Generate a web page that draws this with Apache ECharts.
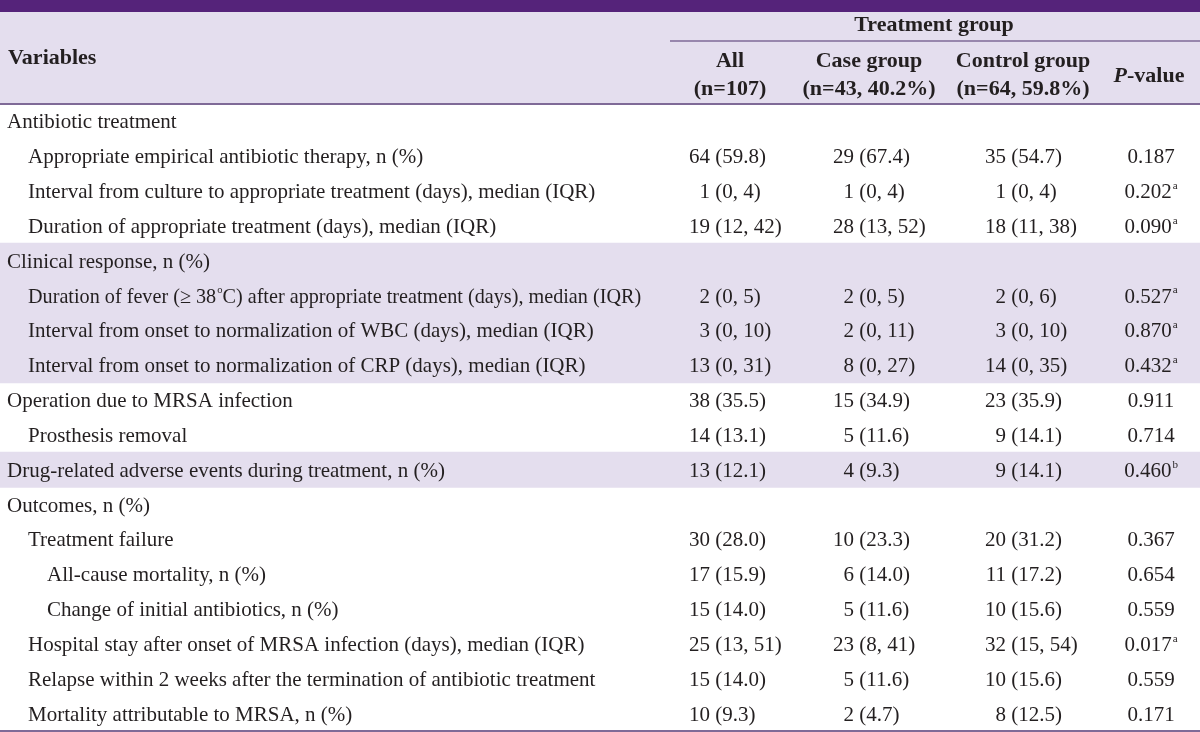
<!DOCTYPE html>
<html>
<head>
<meta charset="utf-8">
<script src="https://cdn.jsdelivr.net/npm/echarts@6/dist/echarts.min.js"></script>
<style>html,body{margin:0;padding:0;background:#fff;}#chart{width:1200px;height:732px;}</style>
</head>
<body>
<div id="chart"></div>
<script>
// ---------------- data ----------------
const rowLabels = [
  'Antibiotic treatment',
  'Appropriate empirical antibiotic therapy, n (%)',
  'Interval from culture to appropriate treatment (days), median (IQR)',
  'Duration of appropriate treatment (days), median (IQR)',
  'Clinical response, n (%)',
  'Duration of fever (\u2265 38{sup|o}C) after appropriate treatment (days), median (IQR)',
  'Interval from onset to normalization of WBC (days), median (IQR)',
  'Interval from onset to normalization of CRP (days), median (IQR)',
  'Operation due to MRSA infection',
  'Prosthesis removal',
  'Drug-related adverse events during treatment, n (%)',
  'Outcomes, n (%)',
  'Treatment failure',
  'All-cause mortality, n (%)',
  'Change of initial antibiotics, n (%)',
  'Hospital stay after onset of MRSA infection (days), median (IQR)',
  'Relapse within 2 weeks after the termination of antibiotic treatment',
  'Mortality attributable to MRSA, n (%)'
];
const rowLevels = [0, 1, 1, 1, 0, 1, 1, 1, 0, 1, 0, 0, 1, 2, 2, 1, 1, 1];
const shadedRows = [4, 5, 6, 7, 10];
const allValues = ['', '64 (59.8)', '1 (0, 4)', '19 (12, 42)', '', '2 (0, 5)', '3 (0, 10)', '13 (0, 31)', '38 (35.5)', '14 (13.1)', '13 (12.1)', '', '30 (28.0)', '17 (15.9)', '15 (14.0)', '25 (13, 51)', '15 (14.0)', '10 (9.3)'];
const caseValues = ['', '29 (67.4)', '1 (0, 4)', '28 (13, 52)', '', '2 (0, 5)', '2 (0, 11)', '8 (0, 27)', '15 (34.9)', '5 (11.6)', '4 (9.3)', '', '10 (23.3)', '6 (14.0)', '5 (11.6)', '23 (8, 41)', '5 (11.6)', '2 (4.7)'];
const controlValues = ['', '35 (54.7)', '1 (0, 4)', '18 (11, 38)', '', '2 (0, 6)', '3 (0, 10)', '14 (0, 35)', '23 (35.9)', '9 (14.1)', '9 (14.1)', '', '20 (31.2)', '11 (17.2)', '10 (15.6)', '32 (15, 54)', '10 (15.6)', '8 (12.5)'];
const pValues = ['', '0.187', '0.202', '0.090', '', '0.527', '0.870', '0.432', '0.911', '0.714', '0.460', '', '0.367', '0.654', '0.559', '0.017', '0.559', '0.171'];
const pNotes = ['', '', 'a', 'a', '', 'a', 'a', 'a', '', '', 'b', '', '', '', '', 'a', '', ''];
const headerGroup = 'Treatment group';
const headerVariables = 'Variables';
const headerColumns = [['All', '(n=107)'], ['Case group', '(n=43, 40.2%)'], ['Control group', '(n=64, 59.8%)']];
const headerP = '{pi|P}-value';

// ---------------- layout / style ----------------
const FONT = '"Liberation Serif", "Times New Roman", serif';
const FS = 21;
const HFS = 22;
const TXT = '#231f20';
const LAV = '#e4deee';
const PURPLE = '#55237a';
const LINE = '#7f6a97';
const indentX = [7, 28, 47];
const labelRight = 645;
const numAnchors = [710, 854, 1006];
const pCenter = 1151;
const headCenters = [730, 869, 1023];
const TEXT_DY = 1.5;
const supRich = { sup: { fontSize: 11, lineHeight: 12, fontFamily: FONT, fill: TXT, verticalAlign: 'top', padding: [0, 0, 0, 1] } };

const rowData = rowLabels.map((_, i) => [0, i]);
const columnSets = [allValues, caseValues, controlValues];

const measureCtx = document.createElement('canvas').getContext('2d');
function labelWidth(s) {
  measureCtx.font = FS + 'px ' + FONT;
  return measureCtx.measureText(s.replace(/\{sup\|([^}]*)\}/g, '$1')).width;
}

const chart = echarts.init(document.getElementById('chart'), null, { renderer: 'canvas' });

function splitCell(s) {
  const k = s.indexOf(' ');
  return [s.slice(0, k), s.slice(k)];
}
function headText(x, y, text, align) {
  return { type: 'text', x: x, y: y + TEXT_DY, z: 5,
    style: { text: text, font: 'bold ' + HFS + 'px ' + FONT, fill: TXT, align: align || 'center', verticalAlign: 'middle' } };
}

const option = {
  animation: false,
  backgroundColor: '#fff',
  grid: { left: 0, right: 0, top: 104, bottom: 1, containLabel: false },
  xAxis: { type: 'value', min: 0, max: 1200, show: false },
  yAxis: { type: 'category', data: rowLabels.map((_, i) => i), inverse: true, show: false },
  graphic: [
    { type: 'rect', shape: { x: 0, y: 0, width: 1200, height: 12 }, style: { fill: PURPLE }, z: 0 },
    { type: 'rect', shape: { x: 0, y: 12, width: 1200, height: 92 }, style: { fill: LAV }, z: 0 },
    { type: 'line', shape: { x1: 670, y1: 41, x2: 1200, y2: 41 }, style: { stroke: LINE, lineWidth: 1.5 }, z: 1 },
    { type: 'line', shape: { x1: 0, y1: 104, x2: 1200, y2: 104 }, style: { stroke: LINE, lineWidth: 2 }, z: 10 },
    { type: 'line', shape: { x1: 0, y1: 731, x2: 1200, y2: 731 }, style: { stroke: LINE, lineWidth: 2 }, z: 10 },
    headText(8, 57, headerVariables, 'left'),
    headText(934, 24, headerGroup)
  ].concat(headerColumns.flatMap((c, j) => [
    headText(headCenters[j], 60, c[0]),
    headText(headCenters[j], 88, c[1])
  ])).concat([
    { type: 'text', x: 1149, y: 75 + TEXT_DY, z: 5,
      style: { text: headerP, font: 'bold ' + HFS + 'px ' + FONT, fill: TXT, align: 'center', verticalAlign: 'middle',
        rich: { pi: { fontStyle: 'italic', fontWeight: 'bold', fontSize: HFS, fontFamily: FONT, fill: TXT } } } }
  ]),
  series: [
    {
      type: 'custom',
      name: 'bands',
      data: shadedRows.map(r => [0, r]),
      encode: { x: 0, y: 1 },
      z: 1,
      renderItem: function (params, api) {
        const c = api.coord([0, api.value(1)]);
        const h = api.size([0, 1])[1];
        const cs = params.coordSys;
        return { type: 'rect', shape: { x: cs.x, y: c[1] - h / 2 - 0.5, width: cs.width, height: h + 1 }, style: { fill: LAV, stroke: null } };
      }
    },
    {
      type: 'custom',
      name: 'labels',
      data: rowData,
      encode: { x: 0, y: 1 },
      z: 3,
      renderItem: function (params, api) {
        const i = api.value(1);
        const x0 = indentX[rowLevels[i]];
        const c = api.coord([x0, i]);
        const w = labelWidth(rowLabels[i]);
        const sx = Math.min(1, (labelRight - x0) / w);
        return {
          type: 'text', x: c[0], y: c[1] + TEXT_DY, scaleX: sx,
          style: { text: rowLabels[i], font: FS + 'px ' + FONT, lineHeight: 24, fill: TXT, align: 'left', verticalAlign: 'middle', rich: supRich }
        };
      }
    },
    {
      type: 'custom',
      name: 'values',
      data: rowData,
      encode: { x: 0, y: 1 },
      z: 3,
      renderItem: function (params, api) {
        const i = api.value(1);
        const children = [];
        columnSets.forEach((col, j) => {
          if (!col[i]) return;
          const parts = splitCell(col[i]);
          const c = api.coord([numAnchors[j], i]);
          children.push({ type: 'text', x: c[0], y: c[1] + TEXT_DY, style: { text: parts[0], font: FS + 'px ' + FONT, fill: TXT, align: 'right', verticalAlign: 'middle' } });
          children.push({ type: 'text', x: c[0], y: c[1] + TEXT_DY, style: { text: parts[1], font: FS + 'px ' + FONT, fill: TXT, align: 'left', verticalAlign: 'middle' } });
        });
        if (pValues[i]) {
          const c = api.coord([pCenter, i]);
          const t = pValues[i] + (pNotes[i] ? '{sup|' + pNotes[i] + '}' : '');
          children.push({ type: 'text', x: c[0], y: c[1] + TEXT_DY, style: { text: t, font: FS + 'px ' + FONT, lineHeight: 24, fill: TXT, align: 'center', verticalAlign: 'middle', rich: supRich } });
        }
        return { type: 'group', children: children };
      }
    }
  ]
};
chart.setOption(option);
</script>
</body>
</html>
